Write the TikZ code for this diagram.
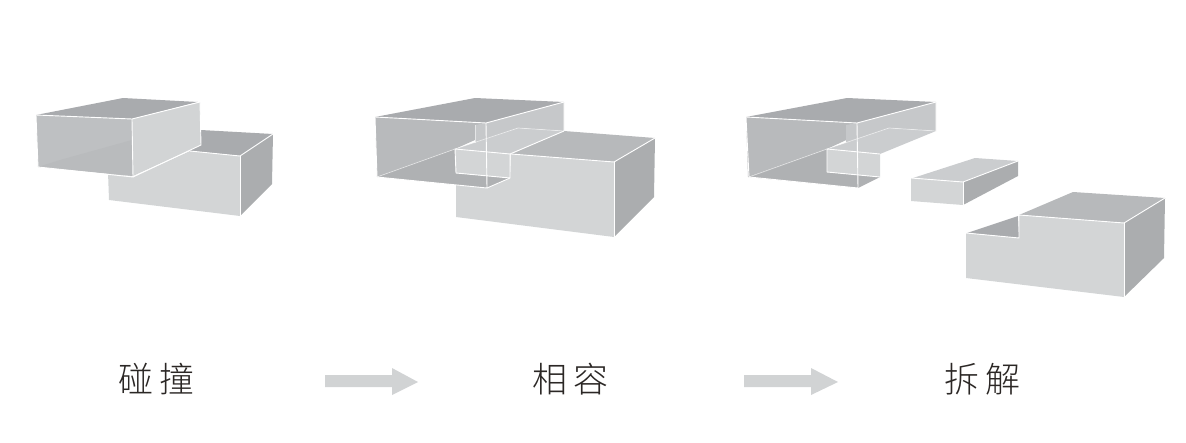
\documentclass[tikz,border=0pt]{standalone}
\usepackage{fontspec}
\newfontfamily\cjk{Noto Sans CJK SC Light}
\definecolor{topdark}{HTML}{A9ABAE}
\definecolor{topmid}{HTML}{B7B9BB}
\definecolor{sidedark}{HTML}{ABADAF}
\definecolor{frontlight}{HTML}{D3D5D6}
\definecolor{frontmid}{HTML}{BEC0C2}
\definecolor{glassback}{HTML}{B8BABC}
\definecolor{glassfloor}{HTML}{AFB1B3}
\definecolor{glassside}{HTML}{C6C8CA}
\definecolor{tenontop}{HTML}{CBCDCF}
\definecolor{arrowgrey}{HTML}{D1D3D4}
\definecolor{inktext}{HTML}{2B2725}
\tikzset{
  edge/.style={draw=white,line width=0.9pt,line join=round},
  faint/.style={draw=white,draw opacity=.55,line width=0.7pt},
  flow/.style={fill=arrowgrey,draw=none},
  label/.style={font=\cjk\fontsize{35}{35}\selectfont,text=inktext,inner sep=0pt,anchor=center},
}
\begin{document}
\begin{tikzpicture}[x=1pt,y=-1pt]
\useasboundingbox (0,0) rectangle (1186,442);
% ---- figure 1 ----
\fill[topdark] (201,130) -- (273,134) -- (240,156) -- (190,151) -- cycle;
\fill[sidedark] (240,156) -- (273,134) -- (272,184) -- (240,216) -- cycle;
\fill[frontlight] (190,151) -- (240,156) -- (240,216) -- (109,200) -- (108,172) -- (133,177) -- cycle;
\draw[edge] (190,151) -- (240,156) -- (273,134);
\draw[edge] (240,156) -- (240,216);
\fill[topdark] (36,115) -- (123,98) -- (198,102) -- (132,119) -- cycle;
\fill[frontmid] (36,115) -- (132,119) -- (133,176) -- (38,167) -- cycle;
\fill[glassback!85!frontmid] (132,140) -- (133,176) -- (38,167) -- (60,160) -- cycle;
\fill[frontlight!95!frontmid] (132,119) -- (200,102) -- (201,145) -- (133,176) -- cycle;
\draw[edge] (36,115) -- (132,119) -- (200,102) -- (201,145) -- (133,177);
\draw[edge] (132,119) -- (133,177) -- (38,167) -- (36,115);
% ---- figure 2 ----
\fill[frontlight] (511,154) -- (614,162) -- (614,237) -- (456,217) -- (456,180) -- (510,178) -- cycle;
\fill[topmid] (511,154) -- (564,131) -- (655,138) -- (614,162) -- cycle;
\fill[sidedark] (614,162) -- (655,138) -- (654,197) -- (614,237) -- cycle;
\draw[edge] (511,154) -- (614,162) -- (655,138);
\draw[edge] (614,162) -- (614,237);
\fill[topdark] (375,117) -- (475,98) -- (564,102) -- (486,123) -- cycle;
\fill[glassback] (375,117) -- (486,123) -- (486,135) -- (455,149) -- (377,177) -- cycle;
\fill[glassside] (486,123) -- (564,102) -- (564,131) -- (518,128) -- (486,139) -- cycle;
\fill[glassside] (475,125) -- (486,123) -- (486,139) -- (475,143) -- cycle;
\fill[glassfloor] (377,177) -- (455,149) -- (456,173) -- (510,178) -- (487,188) -- cycle;
\fill[tenontop] (455,149) -- (518,128) -- (564,131) -- (511,154) -- cycle;
\fill[frontlight] (455,149) -- (510,154) -- (510,178) -- (456,173) -- cycle;
\draw[edge] (375,117) -- (486,123) -- (564,102) -- (564,131);
\draw[edge] (375,117) -- (377,177) -- (487,188) -- (486,123);
\draw[edge] (487,188) -- (510,178) -- (510,154) -- (564,131);
\draw[edge] (456,173) -- (510,178);
\draw[edge] (456,173) -- (455,149) -- (510,154);
\draw[faint] (377,177) -- (455,149) -- (518,128) -- (564,131);
\draw[faint] (475,125) -- (475,143);
% ---- figure 3 ----
\fill[topdark] (746,117) -- (847,98) -- (936,102) -- (857,123) -- cycle;
\fill[glassback] (746,117) -- (857,123) -- (857,135) -- (827,149) -- (748,177) -- cycle;
\fill[glassside] (857,123) -- (936,102) -- (936,131) -- (889,128) -- (857,139) -- cycle;
\fill[glassside] (846,125) -- (857,123) -- (857,139) -- (846,143) -- cycle;
\fill[glassfloor] (748,177) -- (827,149) -- (827,172) -- (880,177) -- (858,188) -- cycle;
\fill[tenontop] (827,149) -- (889,128) -- (936,131) -- (880,154) -- cycle;
\fill[frontlight] (827,149) -- (880,154) -- (880,177) -- (827,172) -- cycle;
\draw[edge] (746,117) -- (857,123) -- (936,102) -- (936,131);
\draw[edge] (746,117) -- (749,177) -- (858,188) -- (857,123);
\draw[edge] (827,172) -- (880,177);
\draw[edge] (827,172) -- (827,149) -- (880,154);
\draw[faint] (749,177) -- (827,149) -- (889,128) -- (936,131);
% loose piece
\fill[tenontop] (913,178) -- (975,158) -- (1018,161) -- (963,182) -- cycle;
\fill[frontlight] (911,178) -- (963,182) -- (963,205) -- (911,201) -- cycle;
\fill[sidedark] (963,182) -- (1018,161) -- (1018,176) -- (963,205) -- cycle;
\draw[edge] (911,178) -- (963,182) -- (1018,161);
\draw[edge] (963,182) -- (963,205);
% stepped block
\fill[topdark] (967,233) -- (1018,216) -- (1019,238) -- cycle;
\fill[topmid] (1019,215) -- (1073,192) -- (1165,198) -- (1124,223) -- cycle;
\fill[frontlight] (966,233) -- (1019,238) -- (1019,215) -- (1124,223) -- (1124,297) -- (966,278) -- cycle;
\fill[sidedark] (1124,223) -- (1165,198) -- (1164,258) -- (1124,297) -- cycle;
\draw[edge] (966,233) -- (1019,238) -- (1019,215) -- (1124,223) -- (1165,198);
\draw[edge] (1124,223) -- (1124,297);
% ---- arrows ----
\fill[flow] (325,375) -- (392,375) -- (392,368) -- (418,382) -- (392,395) -- (392,387) -- (325,387) -- cycle;
\fill[flow] (744,375) -- (811,375) -- (811,368) -- (838,382) -- (811,395) -- (811,387) -- (744,387) -- cycle;
% ---- labels ----
\node[label] (peng) at (156.5,379) {碰\hspace{6pt}撞};
\node[label] (rong) at (570.5,379) {相\hspace{6pt}容};
\node[label] (jie) at (982.5,379) {拆\hspace{6pt}解};
\end{tikzpicture}
\end{document}
